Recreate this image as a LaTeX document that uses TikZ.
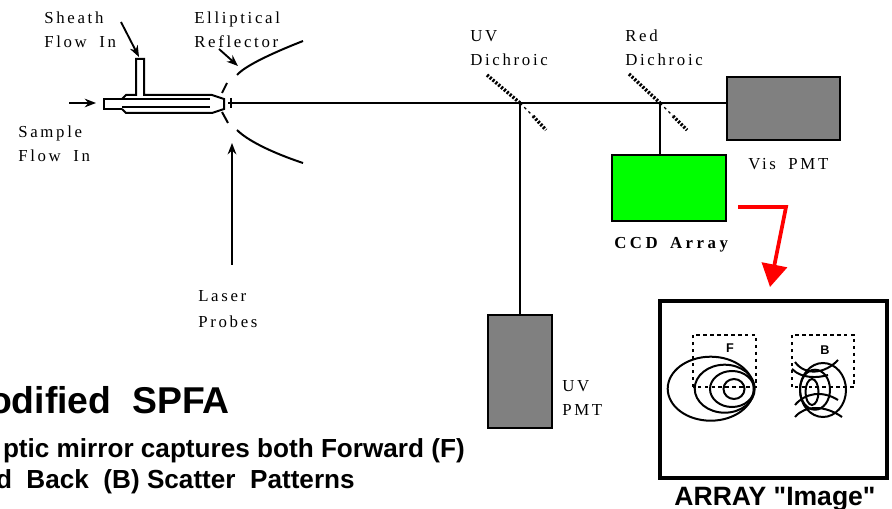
\documentclass[tikz,border=0pt]{standalone}
\usepackage{fontspec}
\newfontfamily\lblfont[LetterSpace=16,WordSpace=1.8]{Liberation Serif}
\newfontfamily\ccdfont[LetterSpace=21,WordSpace=1.6]{Liberation Serif}
\newfontfamily\headfont{Liberation Sans}
\usetikzlibrary{arrows.meta,positioning}

\begin{document}
\begin{tikzpicture}[x=0.75pt,y=-0.75pt,
  lbl/.style={anchor=base west, inner sep=0pt, font=\lblfont\fontsize{12.6}{14}\selectfont, text=black},
  head/.style={anchor=base east, inner sep=0pt, font=\headfont\bfseries\fontsize{19.6}{21}\selectfont},
  pmt/.style={draw=black, fill=black!50, line width=1.5pt, inner sep=0pt, outer sep=0pt},
  beam/.style={line width=1.5pt},
  wall/.style={line width=1.5pt},
  arr/.style={-{Stealth[length=8.5pt,width=6.5pt]}, line width=1.4pt},
  mirA/.style={line width=2.6pt, dash pattern=on 1.6pt off 1.2pt},
  mirB/.style={line width=1pt, dash pattern=on 2pt off 2.5pt},
  ring/.style={line width=1.5pt},
  wavy/.style={line width=1.5pt},
  spot/.style={line width=1.7pt, dash pattern=on 2.6pt off 2.6pt}
]
\useasboundingbox (0,0) rectangle (892,509);

\node[pmt, minimum width=113pt*0.75, minimum height=63pt*0.75] (vis) at (783,109) {};
\node[pmt, fill=green, minimum width=114pt*0.75, minimum height=66pt*0.75] (ccd) at (669,188) {};
\node[pmt, minimum width=64pt*0.75, minimum height=113pt*0.75] (uvpmt) at (520,371.5) {};
\node[draw=black, line width=3pt, inner sep=0pt, minimum width=227pt*0.75, minimum height=177pt*0.75] (array) at (773.5,389.5) {};

\node[lbl] (sheath)  at (44,24)   {Sheath};
\node[lbl] (sheath2) at (44,48)   {Flow In};
\node[lbl] (ellip)   at (194,24)  {Elliptical};
\node[lbl] (ellip2)  at (194,48)  {Reflector};
\node[lbl] (sample)  at (18,138)  {Sample};
\node[lbl] (sample2) at (18,162)  {Flow In};
\node[lbl] (laser)   at (198,302) {Laser};
\node[lbl] (laser2)  at (198,328) {Probes};
\node[lbl] (uvd)     at (470,42)  {UV};
\node[lbl] (uvd2)    at (470,66)  {Dichroic};
\node[lbl] (redd)    at (625,42)  {Red};
\node[lbl] (redd2)   at (625,66)  {Dichroic};
\node[lbl] (vislbl)  at (748,170) {Vis PMT};
\node[lbl, font=\ccdfont\bfseries\fontsize{12.6}{14}\selectfont] (ccdlbl) at (614,249) {CCD Array};
\node[lbl] (uvlbl)   at (562,392) {UV};
\node[lbl] (uvlbl2)  at (562,416) {PMT};

\node[head, font=\headfont\bfseries\fontsize{28}{30}\selectfont] (title) at (230,413) {odified\ \ SPFA};
\node[head] (sub1) at (465,457) {ptic mirror captures both Forward (F)};
\node[head] (sub2) at (355,488) {d\ \ Back\ \ (B) Scatter\ \ Patterns};
\node[head, anchor=base, font=\headfont\bfseries\fontsize{19.9}{21}\selectfont] (arrlbl) at (775,505) {ARRAY "Image"};

% optical path
\coordinate (focus) at (228,103);
\coordinate (uvpt)  at (520,103);
\coordinate (redpt) at (660,103);
\coordinate (sampleA) at (69,103);
\coordinate (sampleB) at (96,103);
\draw[beam] (focus) -- (vis.west |- focus);
\draw[beam] (uvpt) -- (uvpt |- uvpmt.north);
\draw[beam] (redpt) -- (redpt |- ccd.north);
\draw[beam] (231,98) -- (231,108);

% dichroics
\draw[mirA] (487,75) -- (uvpt);
\draw[mirB] (uvpt) -- (533,116);
\draw[mirA] (533,116) -- (546,130);
\draw[mirA] (629,74) -- (redpt);
\draw[mirB] (redpt) -- (673,116);
\draw[mirA] (673,116) -- (687,130);

% nozzle
\draw[wall, line join=miter] (122,99) -- (104,99) -- (104,109) -- (122,109);
\draw[wall] (122,99) -- (126,95) -- (136,95) -- (136,59) -- (144,59) -- (144,95) -- (212,95) -- (224,99) -- (224,109) -- (212,113) -- (126,113) -- (122,109);
\draw[wall] (122,99) -- (210,99);
\draw[wall] (122,107) -- (210,107);

% reflector
\draw[wall] (237,75) .. controls (245,66) and (270,54) .. (303,41);
\draw[wall] (237,130) .. controls (247,140) and (270,152) .. (303,163);
\draw[wall] (222,93) -- (227,83);
\draw[wall] (222,112) -- (228,123);

% arrows
\draw[arr, line width=1.2pt] (sampleA) -- (sampleB);
\draw[arr] (121,22) -- (139,57);
\draw[arr] (219,49) -- (238,66);
\draw[arr] (232,265) -- (232,143);

% red arrow
\coordinate (ccdout) at (738,207);
\coordinate (bend) at (786,207);
\coordinate (tgt) at (770,287);
\draw[red, line width=2.8pt, line join=miter, -{Triangle[length=17pt,width=19pt]}] (ccdout) -- (bend) -- (tgt);

% F pattern
\draw[spot] (693,387) |- (756,335) -- (756,387) -- cycle;
\node[inner sep=0pt, font=\headfont\bfseries\fontsize{9.5}{10}\selectfont] (flbl) at (730,348) {F};
\draw[ring] (710.7,388.7) ellipse (43 and 32);
\draw[ring] (724.7,388.7) ellipse (30 and 24);
\draw[ring] (732,389) ellipse (22 and 18);
\draw[ring] (734,389) ellipse (10.5 and 10);

% B pattern
\draw[spot] (792,387) |- (854,335) -- (854,387) -- cycle;
\node[inner sep=0pt, font=\headfont\bfseries\fontsize{9.5}{10}\selectfont] (blbl) at (825,350) {B};
\draw[ring] (823,390) ellipse (23 and 27);
\draw[ring] (815,389.7) ellipse (15 and 20);
\draw[ring] (812,392) ellipse (6.5 and 13);
\draw[wavy] (795,362) .. controls (805,376) and (825,374) .. (838,360);
\draw[wavy] (792,369) .. controls (802,379) and (818,378) .. (828,375);
\draw[wavy] (795,405) .. controls (805,393) and (822,390) .. (838,400);
\draw[wavy] (795,417) .. controls (805,405) and (825,405) .. (842,417);
\end{tikzpicture}
\end{document}
